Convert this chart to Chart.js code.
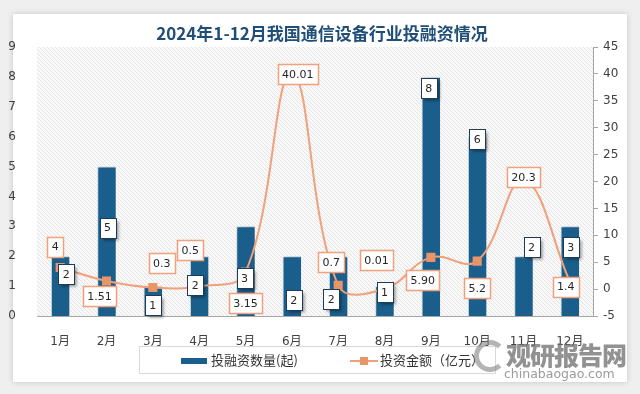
<!DOCTYPE html>
<html>
<head>
<meta charset="utf-8">
<script src="https://cdn.jsdelivr.net/npm/chart.js@4.4.0/dist/chart.umd.min.js"></script>
<style>
    html, body { margin: 0; padding: 0; }
    body { width: 640px; height: 394px; background: #efefef; position: relative; overflow: hidden; font-family: "DejaVu Sans", "Noto Sans CJK SC", sans-serif; }
    #card { position: absolute; left: 13px; top: 14px; width: 614px; height: 368px; background: #fff; box-shadow: 0 0 6px rgba(0,0,0,0.18); }
    #chart { position: absolute; left: 0; top: 0; }
    #legend { position: absolute; left: 139px; top: 346px; width: 355px; height: 26px; border: 1px solid #d9d9d9; background: #fff;
              font-family: "Noto Sans CJK SC", sans-serif; font-size: 13px; color: #333; }
    #legend .item { position: absolute; top: 3px; line-height: 20px; }
    #legend .swatch { position: absolute; left: 41px; top: 11px; width: 26px; height: 6px; background: #1a5f8c; }
    #legend .ln { position: absolute; left: 210px; top: 13px; width: 28px; height: 2px; background: #f0a07a; }
    #legend .mk { position: absolute; left: 220px; top: 10px; width: 8px; height: 8px; background: #e8956a; }
    #wm0 { position: absolute; left: 474px; top: 340px; width: 22px; height: 22px; border: 5px solid rgba(130,130,130,0.6); border-right-color: transparent; border-radius: 50%; }
    #wm1 { position: absolute; left: 506px; top: 336px; font-family: "Noto Sans CJK SC", sans-serif; font-weight: 900; font-size: 25px; color: rgba(110,110,110,0.75); letter-spacing: -1px; }
    #wm2 { position: absolute; left: 504px; top: 366px; font-family: "DejaVu Sans", sans-serif; font-size: 12.5px; color: rgba(120,120,120,0.75); }
</style>
</head>
<body>
<div id="card"></div>
<canvas id="chart" width="640" height="394"></canvas>
<div id="legend">
    <div class="swatch"></div>
    <div class="item" style="left:71px">投融资数量(起)</div>
    <div class="ln"></div><div class="mk"></div>
    <div class="item" style="left:240px">投资金额（亿元）</div>
</div>
<div id="wm0"></div>
<div id="wm1">观研报告网</div>
<div id="wm2">chinabaogao.com</div>
<script>
const months = ['1月', '2月', '3月', '4月', '5月', '6月', '7月', '8月', '9月', '10月', '11月', '12月'];
const dealCounts = [2, 5, 1, 2, 3, 2, 2, 1, 8, 6, 2, 3];
const dealAmounts = [4, 1.51, 0.3, 0.5, 3.15, 40.01, 0.7, 0.01, 5.90, 5.2, 20.3, 1.4];
const amountText = ['4', '1.51', '0.3', '0.5', '3.15', '40.01', '0.7', '0.01', '5.90', '5.2', '20.3', '1.4'];

// label box offsets (px) from each point, picked by eye
const barLabelOffsets = [[6, 18], [1, 61], [0, 19], [-4, 29], [-1, 52], [2, 44], [-7, 43], [0, 6], [-2, 11], [0, 2], [8, -9], [1, 21]];
const lineLabelOffsets = [[-5, -21], [-7, 15], [9, -24], [-9, -36], [0, 31], [6, 0], [-7, -23], [-8, -29], [-8, 23], [0, 27], [0, -3], [-4, 5]];

const BLUE = '#1a5f8c';
const ORANGE = '#f0a07a';
const labelFont = '11px "DejaVu Sans", sans-serif';

function makeHatch(ctx) {
    const c = document.createElement('canvas');
    c.width = 4; c.height = 4;
    const g = c.getContext('2d');
    g.fillStyle = '#f9f9f9';
    g.fillRect(0, 0, 4, 4);
    g.strokeStyle = '#e4e4e4';
    g.lineWidth = 1;
    g.beginPath();
    g.moveTo(-1, -1); g.lineTo(5, 5);
    g.moveTo(-1, 3); g.lineTo(1, 5);
    g.moveTo(3, -1); g.lineTo(5, 1);
    g.stroke();
    return ctx.createPattern(c, 'repeat');
}

const backgroundPlugin = {
    id: 'hatchBg',
    beforeDraw(chart) {
        const { ctx, chartArea: a } = chart;
        ctx.save();
        ctx.fillStyle = makeHatch(ctx);
        ctx.fillRect(a.left, a.top, a.right - a.left, a.bottom - a.top);
        ctx.restore();
    }
};

const titlePlugin = {
    id: 'chartTitle',
    afterDraw(chart) {
        const ctx = chart.ctx;
        ctx.save();
        ctx.font = 'bold 17px "Noto Sans CJK SC", sans-serif';
        ctx.fillStyle = '#1f4e79';
        ctx.textAlign = 'center';
        ctx.textBaseline = 'middle';
        ctx.fillText('2024年1-12月我国通信设备行业投融资情况', 322, 34);
        ctx.restore();
    }
};

const barShadowPlugin = {
    id: 'barShadow',
    beforeDatasetDraw(chart, args) {
        if (args.index !== 0) return;
        const ctx = chart.ctx;
        ctx.save();
        ctx.shadowColor = 'rgba(0,0,0,0.35)';
        ctx.shadowBlur = 4;
        ctx.shadowOffsetX = 2;
        ctx.shadowOffsetY = 1;
    },
    afterDatasetDraw(chart, args) {
        if (args.index !== 0) return;
        chart.ctx.restore();
    }
};

function drawBox(ctx, text, cx, cy, border, shadow) {
    ctx.font = labelFont;
    const w = Math.round(ctx.measureText(text).width) + 9;
    const h = 20;
    const x = Math.round(cx - w / 2) + 0.5;
    const y = Math.round(cy - h / 2) + 0.5;
    ctx.save();
    if (shadow) {
        ctx.shadowColor = 'rgba(0,0,0,0.4)';
        ctx.shadowBlur = 3;
        ctx.shadowOffsetX = 2;
        ctx.shadowOffsetY = 2;
    }
    ctx.fillStyle = '#fff';
    ctx.fillRect(x, y, w, h);
    ctx.restore();
    ctx.strokeStyle = border;
    ctx.lineWidth = shadow ? 1 : 1.5;
    ctx.strokeRect(x, y, w, h);
    ctx.fillStyle = '#262626';
    ctx.textAlign = 'center';
    ctx.textBaseline = 'middle';
    ctx.fillText(text, cx, cy + 1);
}

const labelPlugin = {
    id: 'boxLabels',
    afterDatasetsDraw(chart) {
        const ctx = chart.ctx;
        ctx.save();
        chart.getDatasetMeta(0).data.forEach((el, i) => {
            const [dx, dy] = barLabelOffsets[i];
            drawBox(ctx, String(dealCounts[i]), el.x + dx, el.y + dy, '#1f3b57', true);
        });
        chart.getDatasetMeta(1).data.forEach((el, i) => {
            const [dx, dy] = lineLabelOffsets[i];
            drawBox(ctx, amountText[i], el.x + dx, el.y + dy, ORANGE, false);
        });
        ctx.restore();
    }
};

const tickFont = { family: '"DejaVu Sans", "Noto Sans CJK SC", sans-serif', size: 12 };

new Chart(document.getElementById('chart'), {
    type: 'bar',
    data: {
        labels: months,
        datasets: [
            {
                type: 'bar',
                label: '投融资数量(起)',
                data: dealCounts,
                yAxisID: 'y',
                backgroundColor: BLUE,
                borderColor: '#d6e6f1',
                borderWidth: { left: 1, top: 1, right: 0, bottom: 0 },
                borderSkipped: 'bottom',
                barPercentage: 0.8,
                categoryPercentage: 0.5,
                order: 1
            },
            {
                type: 'line',
                label: '投资金额（亿元）',
                data: dealAmounts,
                yAxisID: 'y1',
                borderColor: ORANGE,
                borderWidth: 2,
                tension: 0.4,
                pointStyle: 'rect',
                pointRadius: 5,
                pointBackgroundColor: '#e8956a',
                pointBorderColor: '#e8956a',
                order: 0
            }
        ]
    },
    options: {
        responsive: false,
        animation: false,
        layout: {
            padding: { top: 47, left: 0, right: 0, bottom: 0 }
        },
        scales: {
            x: {
                grid: { display: false },
                border: { display: true, color: '#a6a6a6' },
                ticks: { color: '#404040', font: tickFont, padding: 11 },
                afterFit: (s) => { s.height = 78; }
            },
            y: {
                position: 'left',
                min: 0,
                max: 9,
                grid: { display: false },
                border: { display: false },
                ticks: { stepSize: 1, color: '#404040', font: tickFont, padding: 13 },
                afterFit: (s) => { s.width = 37; }
            },
            y1: {
                position: 'right',
                min: -5,
                max: 45,
                grid: { drawOnChartArea: false, drawTicks: true, tickLength: 5, color: '#a6a6a6' },
                border: { display: true, color: '#a6a6a6' },
                ticks: { stepSize: 5, color: '#404040', font: tickFont, padding: 5 },
                afterFit: (s) => { s.width = 47; }
            }
        },
        plugins: {
            legend: { display: false },
            title: { display: false },
            tooltip: { enabled: false }
        }
    },
    plugins: [backgroundPlugin, barShadowPlugin, labelPlugin, titlePlugin]
});
</script>
</body>
</html>
